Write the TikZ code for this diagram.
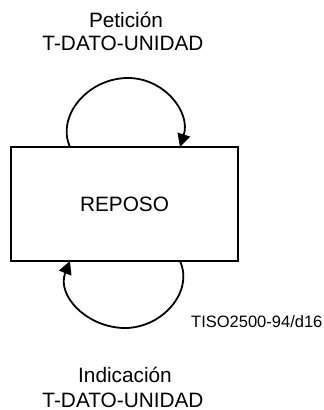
\documentclass[tikz,border=0pt]{standalone}
\usepackage{fontspec}
\setmainfont{Liberation Sans}
\usetikzlibrary{arrows.meta}
\begin{document}
\begin{tikzpicture}[x=1pt,y=-1pt,
  bigtext/.style={inner sep=0pt,anchor=base,font=\fontsize{20.8}{24}\selectfont},
  smalltext/.style={inner sep=0pt,anchor=base west,font=\fontsize{16.5}{19}\selectfont},
  statebox/.style={draw,line width=2pt,minimum width=227pt,minimum height=114pt,inner sep=0pt},
  loop/.style={line width=1.8pt,-{Triangle[length=13pt,width=13pt]}}]
\useasboundingbox (0,0) rectangle (324,410);
\node[statebox] (b) at (124.5,204) {};
\node[bigtext] (r) at (124.5,211) {REPOSO};
\node[bigtext] (p1) at (126,27) {Petición};
\node[bigtext] (p2) at (123,50) {T-DATO-UNIDAD};
\node[bigtext] (i1) at (125,382) {Indicación};
\node[bigtext] (i2) at (123,407) {T-DATO-UNIDAD};
\node[smalltext] (lab) at (191,327) {TISO2500-94/d16};
\coordinate (ts) at (70,147);
\coordinate (tt) at (128,78);
\coordinate (te) at (180,147);
\coordinate (bs) at (180,261);
\coordinate (bb) at (125,328);
\coordinate (be) at (70,261);
\draw[loop] (ts) .. controls (56,116) and (88,78) .. (tt) .. controls (164,78) and (191,112) .. (te);
\draw[loop] (bs) .. controls (194,292) and (162,328) .. (bb) .. controls (88,328) and (56,296) .. (be);
\end{tikzpicture}
\end{document}
